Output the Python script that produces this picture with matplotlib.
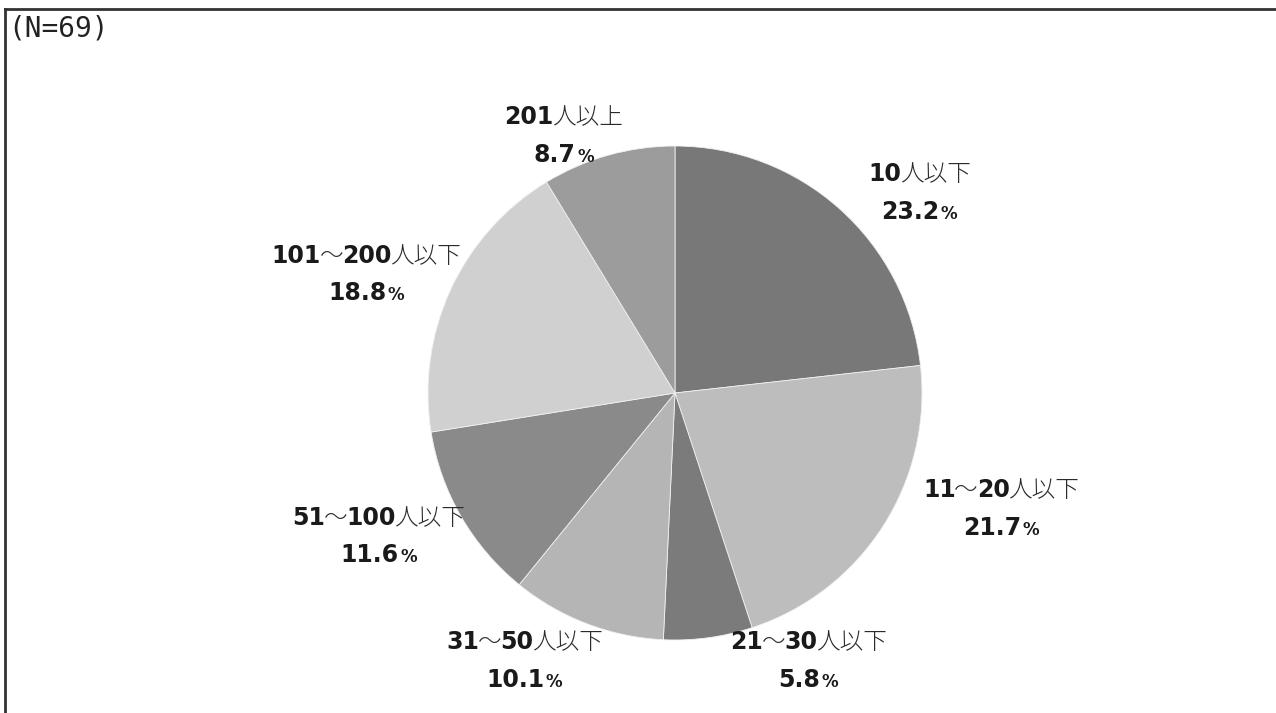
import re
import matplotlib
matplotlib.use('Agg')
import matplotlib.pyplot as plt
from matplotlib.lines import Line2D
from matplotlib.offsetbox import TextArea, HPacker, VPacker, AnnotationBbox

# data
labels = ['10人以下', '11～20人以下', '21～30人以下', '31～50人以下',
          '51～100人以下', '101～200人以下', '201人以上']
shares = [23.2, 21.7, 5.8, 10.1, 11.6, 18.8, 8.7]
n_total = 69

colors = ['#787878', '#bdbdbd', '#7b7b7b', '#b5b5b5', '#8a8a8a', '#d0d0d0', '#9c9c9c']
# label block centres in pie-radius units
label_pos = [(0.99, 0.81), (1.32, -0.47), (0.54, -1.085), (-0.61, -1.085),
             (-1.20, -0.58), (-1.25, 0.48), (-0.45, 1.04)]

W, H = 1276, 713
fig = plt.figure(figsize=(W / 100, H / 100), dpi=100)
fig.patch.set_facecolor('white')

cx, cy, r = 675, 393, 247
ax = fig.add_axes([(cx - r) / W, (H - cy - r) / H, 2 * r / W, 2 * r / H])
ax.pie(shares, colors=colors, startangle=90, counterclock=False,
       wedgeprops=dict(edgecolor='#f0f0f0', linewidth=0.6))
ax.set_xlim(-1, 1)
ax.set_ylim(-1, 1)
ax.set_aspect('equal')
ax.axis('off')

txt_col = '#1a1a1a'
bold = dict(fontsize=17, fontweight='bold', family='DejaVu Sans', color=txt_col)
thin = dict(fontsize=17, fontweight='light', family=['Noto Sans CJK JP', 'DejaVu Sans'], color='#2a2a2a')
pct_small = dict(fontsize=12, fontweight='bold', family='DejaVu Sans', color=txt_col)

for lab, val, pos in zip(labels, shares, label_pos):
    parts = re.findall(r'\d+|\D+', lab)
    line1 = HPacker(children=[TextArea(p, textprops=bold if p.isdigit() else thin) for p in parts],
                    align='baseline', pad=0, sep=-1)
    line2 = HPacker(children=[TextArea(f'{val:.1f}', textprops=bold),
                              TextArea('%', textprops=pct_small)],
                    align='baseline', pad=0, sep=1)
    box = VPacker(children=[line1, line2], align='center', pad=0, sep=9)
    ab = AnnotationBbox(box, pos, xycoords='data', frameon=False,
                        box_alignment=(0.5, 0.5), annotation_clip=False)
    ax.add_artist(ab)

fig.text(8 / W, 1 - 15 / H, f'(N={n_total})', fontsize=20, family='DejaVu Sans Mono',
         color='#222222', ha='left', va='top')

# frame lines (top and left only)
fig.add_artist(Line2D([5 / W, 1], [1 - 9 / H, 1 - 9 / H], transform=fig.transFigure,
                      color='#333333', linewidth=2))
fig.add_artist(Line2D([5 / W, 5 / W], [0, 1 - 9 / H], transform=fig.transFigure,
                      color='#333333', linewidth=2))

fig.savefig('out.png', dpi=100)
